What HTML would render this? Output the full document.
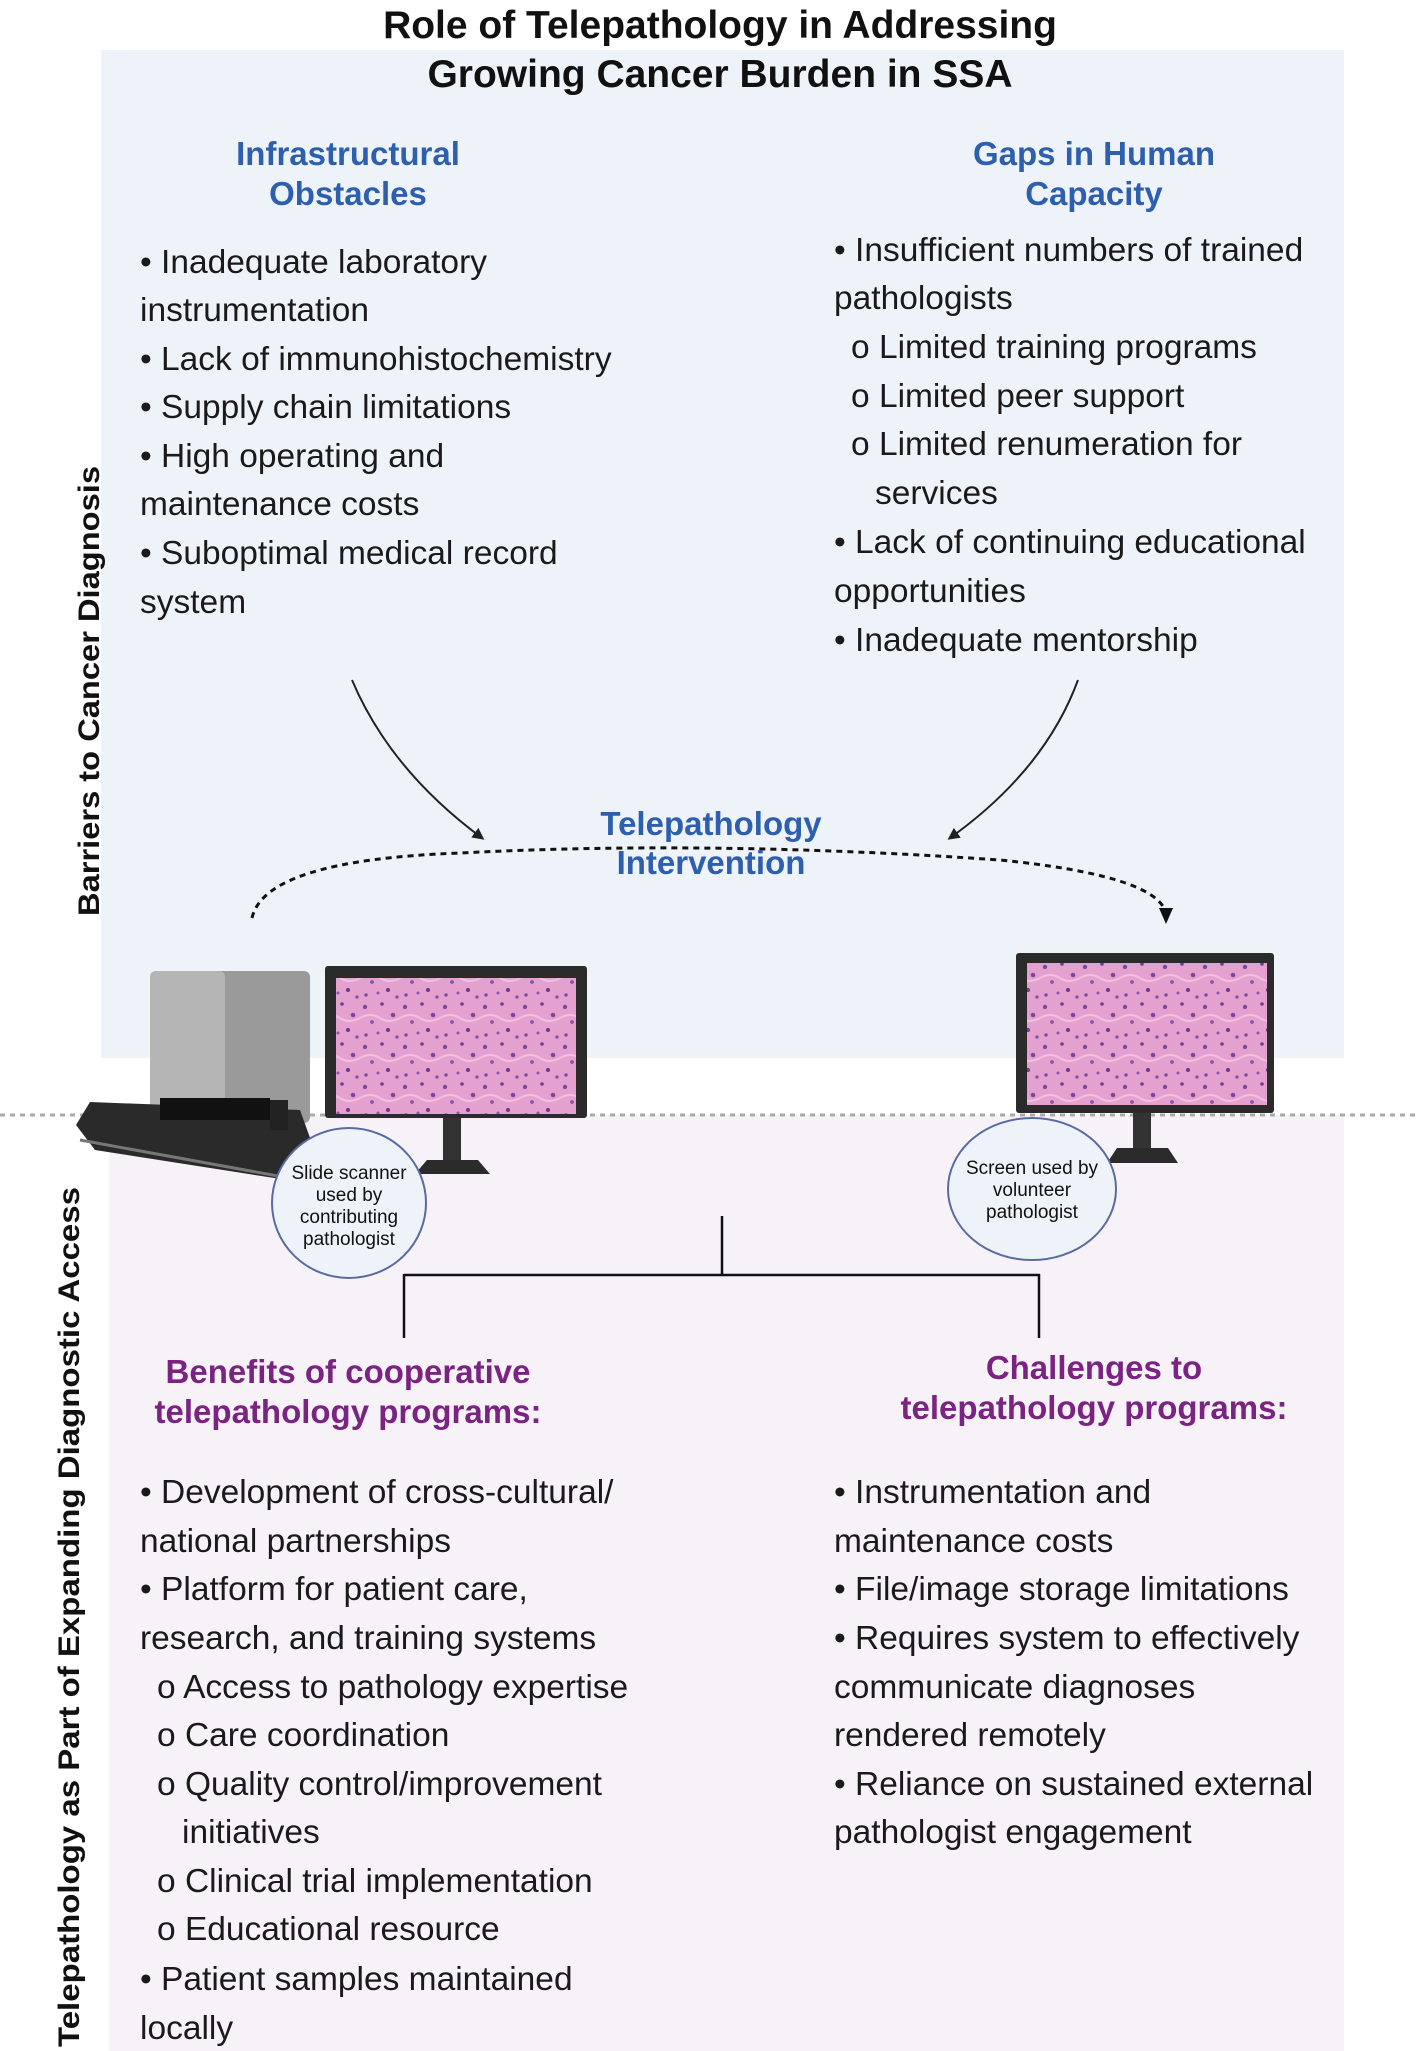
<!DOCTYPE html>
<html><head><meta charset="utf-8"><style>
html,body{margin:0;padding:0;background:#fff;}
svg{display:block;}
text{font-family:"Liberation Sans",sans-serif;}
.t{font-size:33.5px;fill:#1a1a1a;}
.hb{font-size:33px;font-weight:bold;fill:#2d5fae;text-anchor:middle;}
.hp{font-size:33px;font-weight:bold;fill:#7a2383;text-anchor:middle;}
.sm{font-size:19px;fill:#111;text-anchor:middle;}
</style></head><body>
<svg width="1417" height="2051" viewBox="0 0 1417 2051" xmlns="http://www.w3.org/2000/svg">
<defs>
<pattern id="histo" width="40" height="40" patternUnits="userSpaceOnUse">
<rect width="40" height="40" fill="#e4a0cf"/>
<circle cx="5" cy="7" r="2.2" fill="#7a4a9e"/><circle cx="22" cy="4" r="1.8" fill="#6b3f92"/>
<circle cx="33" cy="15" r="2.3" fill="#7a4a9e"/><circle cx="12" cy="22" r="1.9" fill="#8a55aa"/>
<circle cx="28" cy="30" r="2.1" fill="#6b3f92"/><circle cx="6" cy="35" r="1.7" fill="#7a4a9e"/>
<circle cx="18" cy="33" r="1.5" fill="#8a55aa"/><circle cx="37" cy="37" r="1.6" fill="#7a4a9e"/>
<path d="M0 18 Q10 12 20 18 T40 18" stroke="#f2c0e0" stroke-width="2" fill="none"/>
</pattern>
<marker id="ah" markerWidth="12" markerHeight="12" refX="9" refY="6" orient="auto" markerUnits="userSpaceOnUse"><path d="M0,0 L12,6 L0,12 z" fill="#222"/></marker>
</defs>
<rect x="101" y="50" width="1243" height="1008" fill="#eef3fa"/>
<rect x="109" y="1115" width="1235" height="936" fill="#f6f2f8"/>
<line x1="0" y1="1115" x2="1417" y2="1115" stroke="#aaa" stroke-width="3" stroke-dasharray="5,5"/>

<text x="720" y="38" font-size="39" font-weight="bold" text-anchor="middle" fill="#111">Role of Telepathology in Addressing</text>
<text x="720" y="87" font-size="39" font-weight="bold" text-anchor="middle" fill="#111">Growing Cancer Burden in SSA</text>

<text class="hb" x="348" y="165">Infrastructural</text>
<text class="hb" x="348" y="205">Obstacles</text>
<text class="hb" x="1094" y="165">Gaps in Human</text>
<text class="hb" x="1094" y="205">Capacity</text>

<text class="t" x="140" y="273">• Inadequate laboratory</text>
<text class="t" x="140" y="321">instrumentation</text>
<text class="t" x="140" y="370">• Lack of immunohistochemistry</text>
<text class="t" x="140" y="418">• Supply chain limitations</text>
<text class="t" x="140" y="467">• High operating and</text>
<text class="t" x="140" y="515">maintenance costs</text>
<text class="t" x="140" y="564">• Suboptimal medical record</text>
<text class="t" x="140" y="613">system</text>

<text class="t" x="834" y="261">• Insufficient numbers of trained</text>
<text class="t" x="834" y="309">pathologists</text>
<text class="t" x="851" y="358">o Limited training programs</text>
<text class="t" x="851" y="407">o Limited peer support</text>
<text class="t" x="851" y="455">o Limited renumeration for</text>
<text class="t" x="875" y="504">services</text>
<text class="t" x="834" y="553">• Lack of continuing educational</text>
<text class="t" x="834" y="602">opportunities</text>
<text class="t" x="834" y="651">• Inadequate mentorship</text>

<path d="M352 680 Q390 770 482 838" stroke="#222" stroke-width="2" fill="none" marker-end="url(#ah)"/>
<path d="M1078 680 Q1045 770 950 838" stroke="#222" stroke-width="2" fill="none" marker-end="url(#ah)"/>

<path d="M252 918 Q265 860 460 853 Q712 840 1000 860 Q1150 875 1165 910" stroke="#111" stroke-width="3" stroke-dasharray="6,5" fill="none"/>
<path d="M1159 908 L1173 908 L1166 924 z" fill="#111"/>

<text class="hb" x="711" y="835">Telepathology</text>
<text class="hb" x="711" y="874">Intervention</text>

<text transform="translate(99,691) rotate(-90)" font-size="30" font-weight="bold" text-anchor="middle" fill="#111" textLength="450" lengthAdjust="spacingAndGlyphs">Barriers to Cancer Diagnosis</text>
<text transform="translate(79,1617) rotate(-90)" font-size="30" font-weight="bold" text-anchor="middle" fill="#111" textLength="860" lengthAdjust="spacingAndGlyphs">Telepathology as Part of Expanding Diagnostic Access</text>

<!-- scanner -->
<rect x="150" y="971" width="160" height="152" rx="6" fill="#9a9a9a"/>
<rect x="150" y="971" width="75" height="152" rx="6" fill="#b5b5b5"/>
<path d="M90 1102 L300 1110 L318 1160 L300 1182 L95 1150 L76 1125 z" fill="#2a2a2a"/>
<rect x="160" y="1098" width="110" height="22" fill="#111"/>
<rect x="270" y="1100" width="18" height="30" fill="#222"/>
<path d="M80 1140 L300 1180" stroke="#777" stroke-width="3"/>

<!-- left monitor -->
<rect x="325" y="966" width="262" height="152" rx="3" fill="#2b2b2b"/>
<rect x="336" y="978" width="240" height="136" fill="url(#histo)"/>
<rect x="443" y="1118" width="18" height="42" fill="#333"/>
<path d="M427 1160 L478 1160 L490 1174 L415 1174 z" fill="#2b2b2b"/>

<!-- right monitor -->
<rect x="1016" y="953" width="258" height="160" rx="3" fill="#2b2b2b"/>
<rect x="1027" y="963" width="240" height="142" fill="url(#histo)"/>
<rect x="1133" y="1113" width="18" height="36" fill="#333"/>
<path d="M1117 1148 L1168 1148 L1178 1163 L1107 1163 z" fill="#2b2b2b"/>

<ellipse cx="349" cy="1203" rx="77" ry="75" fill="#eef3fa" stroke="#5a6aa0" stroke-width="2"/>
<text class="sm" x="349" y="1179">Slide scanner</text>
<text class="sm" x="349" y="1201">used by</text>
<text class="sm" x="349" y="1223">contributing</text>
<text class="sm" x="349" y="1245">pathologist</text>

<ellipse cx="1032" cy="1189" rx="84" ry="71" fill="#eef3fa" stroke="#5a6aa0" stroke-width="2"/>
<text class="sm" x="1032" y="1174">Screen used by</text>
<text class="sm" x="1032" y="1196">volunteer</text>
<text class="sm" x="1032" y="1218">pathologist</text>

<path d="M722 1216 V1275 M404 1275 H1040 M404 1274 V1338 M1039 1274 V1338" stroke="#111" stroke-width="2.5" fill="none"/>

<text class="hp" x="348" y="1383">Benefits of cooperative</text>
<text class="hp" x="348" y="1423">telepathology programs:</text>
<text class="hp" x="1094" y="1379">Challenges to</text>
<text class="hp" x="1094" y="1419">telepathology programs:</text>

<text class="t" x="140" y="1503">• Development of cross-cultural/</text>
<text class="t" x="140" y="1552">national partnerships</text>
<text class="t" x="140" y="1600">• Platform for patient care,</text>
<text class="t" x="140" y="1649">research, and training systems</text>
<text class="t" x="157" y="1698">o Access to pathology expertise</text>
<text class="t" x="157" y="1746">o Care coordination</text>
<text class="t" x="157" y="1795">o Quality control/improvement</text>
<text class="t" x="182" y="1843">initiatives</text>
<text class="t" x="157" y="1892">o Clinical trial implementation</text>
<text class="t" x="157" y="1940">o Educational resource</text>
<text class="t" x="140" y="1990">• Patient samples maintained</text>
<text class="t" x="140" y="2039">locally</text>

<text class="t" x="834" y="1503">• Instrumentation and</text>
<text class="t" x="834" y="1552">maintenance costs</text>
<text class="t" x="834" y="1600">• File/image storage limitations</text>
<text class="t" x="834" y="1649">• Requires system to effectively</text>
<text class="t" x="834" y="1698">communicate diagnoses</text>
<text class="t" x="834" y="1746">rendered remotely</text>
<text class="t" x="834" y="1795">• Reliance on sustained external</text>
<text class="t" x="834" y="1843">pathologist engagement</text>
</svg>
</body></html>
